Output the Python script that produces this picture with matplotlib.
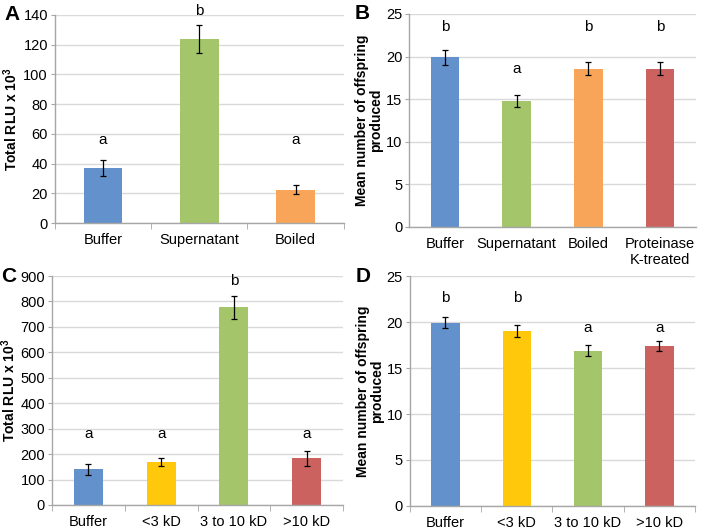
import matplotlib
matplotlib.use("Agg")
import matplotlib.pyplot as plt
import numpy as np

plt.rcParams["font.family"] = ["Liberation Sans", "DejaVu Sans"]

# panel A
a_cats = ["Buffer", "Supernatant", "Boiled"]
a_vals = [37, 124, 22.5]
a_errs = [5.3, 9.5, 3]
a_letters = ["a", "b", "a"]
a_letter_y = [56, 143, 56]

# panel B
b_cats = ["Buffer", "Supernatant", "Boiled", "Proteinase\nK-treated"]
b_vals = [19.9, 14.8, 18.6, 18.6]
b_errs = [0.85, 0.75, 0.8, 0.8]
b_letters = ["b", "a", "b", "b"]
b_letter_y = [23.5, 18.5, 23.5, 23.5]

# panel C
c_cats = ["Buffer", "<3 kD", "3 to 10 kD", ">10 kD"]
c_vals = [140, 170, 778, 183]
c_errs = [22, 15, 45, 30]
c_letters = ["a", "a", "b", "a"]
c_letter_y = [279, 279, 880, 279]

# panel D
d_cats = ["Buffer", "<3 kD", "3 to 10 kD", ">10 kD"]
d_vals = [19.9, 19.05, 16.9, 17.4]
d_errs = [0.6, 0.65, 0.55, 0.55]
d_letters = ["b", "b", "a", "a"]
d_letter_y = [22.6, 22.6, 19.3, 19.3]

blue = "#6391cb"
green = "#a5c56b"
orange = "#f8a55a"
red = "#cb625f"
yellow = "#ffc80a"

rlu_label = "Total RLU x 10$^\\mathregular{3}$"
off_label = "Mean number of offspring\nproduced"

panels = [
    ("A", [0.078, 0.5792, 0.411, 0.3925], a_cats, a_vals, a_errs, a_letters, a_letter_y,
     [blue, green, orange], 140, 20, rlu_label, True),
    ("B", [0.582, 0.5717, 0.408, 0.4019], b_cats, b_vals, b_errs, b_letters, b_letter_y,
     [blue, green, orange, red], 25, 5, off_label, False),
    ("C", [0.074, 0.0472, 0.414, 0.432], c_cats, c_vals, c_errs, c_letters, c_letter_y,
     [blue, yellow, green, red], 900, 100, rlu_label, True),
    ("D", [0.583, 0.0453, 0.4056, 0.4339], d_cats, d_vals, d_errs, d_letters, d_letter_y,
     [blue, yellow, green, red], 25, 5, off_label, True),
]

fig = plt.figure(figsize=(7.03, 5.30), dpi=100)

for tag, rect, cats, vals, errs, letters, letter_y, colors, ymax, ystep, ylabel, seps in panels:
    ax = fig.add_axes(rect)
    x = np.arange(len(cats))
    ax.bar(x, vals, width=0.4, color=colors, zorder=2)
    ax.errorbar(x, vals, yerr=errs, fmt="none", ecolor="black", elinewidth=0.9,
                capsize=2.5, capthick=0.9, zorder=3)
    for xi, lt, ly in zip(x, letters, letter_y):
        ax.text(xi, ly, lt, ha="center", va="center", fontsize=11, clip_on=False)
    ax.set_xlim(-0.5, len(cats) - 0.5)
    ax.set_ylim(0, ymax)
    ax.set_yticks(np.arange(0, ymax + 1, ystep))
    ax.set_xticks(x)
    ax.set_xticklabels(cats, fontsize=10.5)
    ax.tick_params(axis="x", length=0, pad=7)
    ax.tick_params(axis="y", labelsize=10.5, length=3, color="#a6a6a6", pad=2)
    if seps:
        ax.set_xticks(np.arange(len(cats) + 1) - 0.5, minor=True)
        ax.tick_params(axis="x", which="minor", length=4, color="#a6a6a6")
    ax.grid(axis="y", color="#d9d9d9", linewidth=1, zorder=0)
    for s in ["top", "right"]:
        ax.spines[s].set_visible(False)
    for s in ["left", "bottom"]:
        ax.spines[s].set_color("#a6a6a6")
        ax.spines[s].set_linewidth(1)
    ax.set_axisbelow(True)
    ax.set_ylabel(ylabel, fontsize=10, fontweight="bold", labelpad=2, linespacing=1.0)
    ax.text(-0.175 if tag in "AC" else -0.19, 1.0, tag, transform=ax.transAxes,
            fontsize=15, fontweight="bold", ha="left", va="center")

fig.savefig("out.png", dpi=100)
